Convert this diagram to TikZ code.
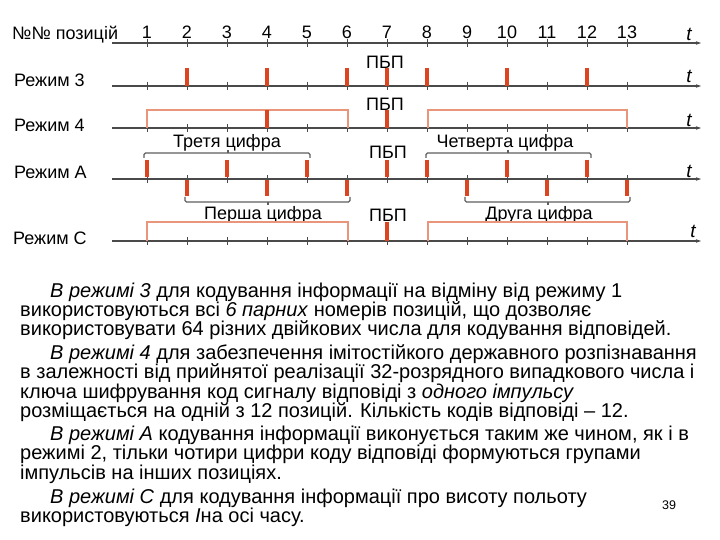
\documentclass[tikz,border=0pt]{standalone}
\usepackage{fontspec}
\setmainfont{Liberation Sans}
\usetikzlibrary{arrows.meta}
\definecolor{axisgray}{HTML}{4A4A4A}
\definecolor{pulsered}{HTML}{DD4420}
\definecolor{salmon}{HTML}{E8957C}
\definecolor{brgray}{HTML}{5E5E5E}
\begin{document}
\begin{tikzpicture}[x=1pt,y=-1pt,
  axis/.style={draw=axisgray, line width=1.3pt, -{Stealth[length=5pt,width=3.5pt]}},
  tickmark/.style={draw=axisgray, line width=0.9pt},
  pulse/.style={draw=pulsered, line width=3.2pt},
  frame/.style={draw=salmon, line width=1.1pt},
  brace/.style={draw=brgray, line width=1.4pt, rounded corners=1.5pt},
  lbl/.style={font=\fontsize{18}{19}\selectfont, inner sep=0pt},
  tlbl/.style={font=\fontsize{19}{19}\selectfont\itshape, inner sep=0pt},
  body/.style={font=\fontsize{20}{21}\selectfont, inner sep=0pt, anchor=base west},
]
\useasboundingbox[fill=white] (0,0) rectangle (720,540);

% ---- axes ----
\foreach \name/\yy in {top/43, rthree/86, rfour/128, ra/179, rc/241} {
  \coordinate (\name-s) at (112,\yy);
  \coordinate (\name-e) at (701,\yy);
  \draw[axis] (\name-s) -- (\name-e);
  \foreach \k in {1,...,13} {
    \pgfmathsetmacro\xx{147+40*(\k-1)}
    \draw[tickmark] (\xx,\yy-4) -- (\xx,\yy+4);
  }
}

% ---- position numbers ----
\foreach \k in {1,...,13} {
  \pgfmathsetmacro\xx{147+40*(\k-1)}
  \node[lbl] (num\k) at (\xx,32) {\k};
}

% ---- row labels ----
\node[lbl, anchor=west] (lpos) at (12,35) {№№ позицій};
\node[lbl, anchor=west] (lr3) at (14,80) {Режим 3};
\node[lbl, anchor=west] (lr4) at (14,125) {Режим 4};
\node[lbl, anchor=west] (lra) at (14,172) {Режим А};
\node[lbl, anchor=west] (lrc) at (13,238) {Режим С};

% ---- t labels ----
\node[tlbl] (t1) at (689,34) {t};
\node[tlbl] (t2) at (689,76) {t};
\node[tlbl] (t3) at (689,120) {t};
\node[tlbl] (t4) at (689,171) {t};
\node[tlbl] (t5) at (693,231) {t};

% ---- ПБП labels ----
\node[lbl] (pbp1) at (385,62) {ПБП};
\node[lbl] (pbp2) at (385,104) {ПБП};
\node[lbl] (pbp3) at (388,152) {ПБП};
\node[lbl] (pbp4) at (388,215) {ПБП};

% ---- Режим 3 pulses ----
\foreach \k in {2,4,6,7,8,10,12} {
  \pgfmathsetmacro\xx{147+40*(\k-1)}
  \draw[pulse] (\xx,68) -- (\xx,86);
}

% ---- Режим 4 ----
\draw[frame] (147,128) -- (147,110) -- (348,110) -- (348,128);
\draw[frame] (428,128) -- (428,110) -- (627,110) -- (627,128);
\foreach \k in {4,7} {
  \pgfmathsetmacro\xx{147+40*(\k-1)}
  \draw[pulse] (\xx,110) -- (\xx,128);
}

% ---- Режим А ----
\foreach \k in {1,3,5,7,8,10,12} {
  \pgfmathsetmacro\xx{147+40*(\k-1)}
  \draw[pulse] (\xx,160) -- (\xx,177.5);
}
\foreach \k in {2,4,6,9,11,13} {
  \pgfmathsetmacro\xx{147+40*(\k-1)}
  \draw[pulse] (\xx,180) -- (\xx,196);
}
% braces
\draw[brace] (144,158) -- (144,153) -- (310,153) -- (310,158);
\draw[brgray, line width=1.2pt] (228,153) -- (228,150);
\draw[brace] (426,158) -- (426,153) -- (591,153) -- (591,158);
\draw[brgray, line width=1.2pt] (508,153) -- (508,150);
\draw[brace] (185,197) -- (185,202) -- (350,202) -- (350,197);
\draw[brgray, line width=1.2pt] (268,202) -- (268,205);
\draw[brace] (465,197) -- (465,202) -- (630,202) -- (630,197);
\draw[brgray, line width=1.2pt] (548,202) -- (548,205);
\node[lbl] (third) at (227,143) {Третя цифра};
\node[lbl] (fourth) at (505,143) {Четверта цифра};
\node[lbl] (first) at (263,215) {Перша цифра};
\node[lbl] (second) at (539,215) {Друга цифра};

% ---- Режим С ----
\draw[frame] (147,241) -- (147,222) -- (348,222) -- (348,241);
\draw[frame] (428,241) -- (428,222) -- (627,222) -- (627,241);
\draw[pulse] (387,222) -- (387,241);

% ---- body text ----
\node[body] (l1) at (50,297) {\textit{В режимі 3} для кодування інформації на відміну від режиму 1};
\node[body] (l2) at (20,316.3) {використовуються всі \textit{6 парних} номерів позицій, що дозволяє};
\node[body] (l3) at (20,335.6) {використовувати 64 різних двійкових числа для кодування відповідей.};
\node[body] (l4) at (50,359.6) {\textit{В режимі 4} для забезпечення імітостійкого державного розпізнавання};
\node[body] (l5) at (20,378.9) {в залежності від прийнятої реалізації 32-розрядного випадкового числа і};
\node[body] (l6) at (20,398.2) {ключа шифрування код сигналу відповіді з \textit{одного імпульсу}};
\node[body] (l7) at (20,417.5) {розміщається на одній з 12 позицій. Кількість кодів відповіді – 12.};
\node[body] (l8) at (50,440.5) {\textit{В режимі А} кодування інформації виконується таким же чином, як і в};
\node[body] (l9) at (20,459.8) {режимі 2, тільки чотири цифри коду відповіді формуються групами};
\node[body] (l10) at (20,479.1) {імпульсів на інших позиціях.};
\node[body] (l11) at (50,503) {\textit{В режимі С} для кодування інформації про висоту польоту};
\node[body] (l12) at (20,522.3) {використовуються \textit{І}на осі часу.};
\node[font=\fontsize{12.5}{13}\selectfont, inner sep=0pt] (pg) at (669,505) {39};
\end{tikzpicture}
\end{document}
